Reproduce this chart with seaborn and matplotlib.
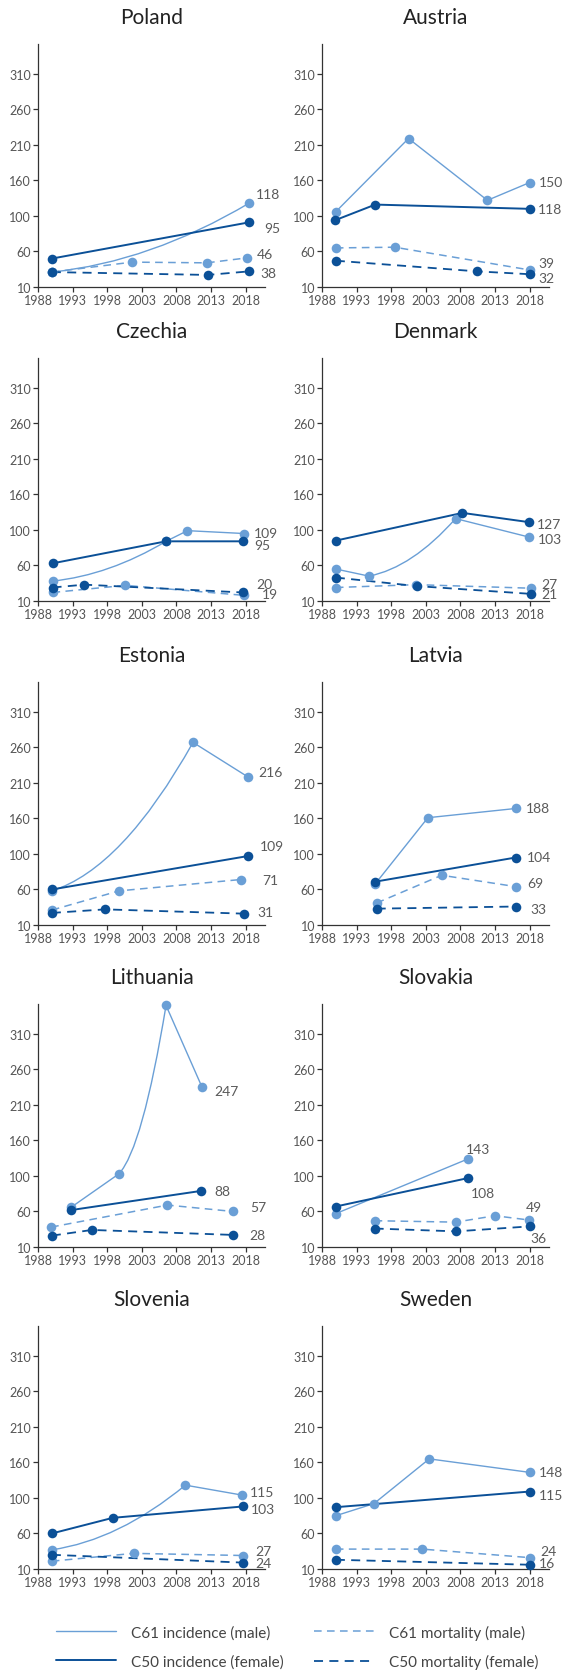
import numpy as np
import pandas as pd
import seaborn as sns
import matplotlib
matplotlib.use('Agg')
import matplotlib.pyplot as plt
from matplotlib.path import Path
from matplotlib.patches import PathPatch
from matplotlib.lines import Line2D

countries = ["Poland", "Austria", "Czechia", "Denmark", "Estonia",
             "Latvia", "Lithuania", "Slovakia", "Slovenia", "Sweden"]

# C61 incidence (male)
c61_inc_x = {
    "Poland": [1990.0, 2018.5],
    "Austria": [1990.0, 2000.5, 2011.9, 2018.0],
    "Czechia": [1990.1, 2006.5, 2009.6, 2017.7],
    "Denmark": [1990.0, 1994.8, 2007.3, 2017.9],
    "Estonia": [1990.0, 2010.4, 2018.4],
    "Latvia": [1995.7, 2003.3, 2016.0],
    "Lithuania": [1992.8, 1999.7, 2006.5, 2011.7],
    "Slovakia": [1990.0, 2009.1],
    "Slovenia": [1990.0, 2009.3, 2017.5],
    "Sweden": [1990.0, 1995.5, 2003.5, 2018.0],
}
c61_inc_y = {
    "Poland": [31, 128],
    "Austria": [116, 219, 132, 157],
    "Czechia": [38, 94, 109, 105],
    "Denmark": [55, 45, 126, 100],
    "Estonia": [58, 267, 218],
    "Latvia": [68, 161, 174],
    "Lithuania": [66, 113, 350, 235],
    "Slovakia": [57, 134],
    "Slovenia": [37, 128, 114],
    "Sweden": [85, 102, 165, 146],
}
# C50 incidence (female)
c50_inc_x = {
    "Poland": [1990.0, 2018.5],
    "Austria": [1989.9, 1995.7, 2018.0],
    "Czechia": [1990.1, 2006.5, 2017.6],
    "Denmark": [1990.0, 2008.3, 2017.9],
    "Estonia": [1990.0, 2018.3],
    "Latvia": [1995.7, 2016.0],
    "Lithuania": [1992.8, 2011.6],
    "Slovakia": [1990.0, 2009.1],
    "Slovenia": [1990.0, 1998.8, 2017.6],
    "Sweden": [1990.0, 2018.0],
}
c50_inc_y = {
    "Poland": [50, 101],
    "Austria": [104, 126, 120],
    "Czechia": [63, 94, 94],
    "Denmark": [95, 134, 121],
    "Estonia": [60, 107],
    "Latvia": [71, 105],
    "Lithuania": [62, 89],
    "Slovakia": [67, 107],
    "Slovenia": [60, 82, 98],
    "Sweden": [97, 119],
}
# C61 mortality (male)
c61_mort_x = {
    "Poland": [1990.0, 2001.6, 2012.4, 2018.2],
    "Austria": [1990.0, 1998.5, 2018.0],
    "Czechia": [1990.1, 2000.6, 2017.7],
    "Denmark": [1990.0, 2001.6, 2018.2],
    "Estonia": [1990.0, 1999.7, 2017.3],
    "Latvia": [1995.9, 2005.3, 2016.0],
    "Lithuania": [1989.9, 2006.7, 2016.2],
    "Slovakia": [1995.6, 2007.3, 2013.0, 2017.9],
    "Slovenia": [1990.0, 2001.8, 2017.6],
    "Sweden": [1990.0, 2002.5, 2018.0],
}
c61_mort_y = {
    "Poland": [31, 45, 44, 51],
    "Austria": [65, 66, 34],
    "Czechia": [22, 32, 18],
    "Denmark": [29, 33, 28],
    "Estonia": [31, 58, 74],
    "Latvia": [41, 80, 64],
    "Lithuania": [38, 69, 60],
    "Slovakia": [47, 45, 54, 48],
    "Slovenia": [21, 32, 29],
    "Sweden": [38, 38, 26],
}
# C50 mortality (female)
c50_mort_x = {
    "Poland": [1990.0, 2012.5, 2018.5],
    "Austria": [1990.0, 2010.4, 2018.0],
    "Czechia": [1990.1, 1994.7, 2017.6],
    "Denmark": [1990.0, 2001.7, 2018.2],
    "Estonia": [1990.0, 1997.7, 2017.7],
    "Latvia": [1995.9, 2016.0],
    "Lithuania": [1990.0, 1995.8, 2016.2],
    "Slovakia": [1995.6, 2007.4, 2018.0],
    "Slovenia": [1990.0, 2017.6],
    "Sweden": [1990.0, 2018.0],
}
c50_mort_y = {
    "Poland": [31, 27, 32],
    "Austria": [47, 32, 28],
    "Czechia": [29, 33, 22],
    "Denmark": [43, 31, 20],
    "Estonia": [27, 32, 26],
    "Latvia": [33, 36],
    "Lithuania": [26, 34, 27],
    "Slovakia": [36, 32, 39],
    "Slovenia": [30, 19],
    "Sweden": [23, 16],
}

# end-of-line value labels
c61_inc_lab = {"Poland": "118", "Austria": "150", "Czechia": "109", "Denmark": "103", "Estonia": "216",
               "Latvia": "188", "Lithuania": "247", "Slovakia": "143", "Slovenia": "115", "Sweden": "148"}
c50_inc_lab = {"Poland": "95", "Austria": "118", "Czechia": "95", "Denmark": "127", "Estonia": "109",
               "Latvia": "104", "Lithuania": "88", "Slovakia": "108", "Slovenia": "103", "Sweden": "115"}
c61_mort_lab = {"Poland": "46", "Austria": "39", "Czechia": "19", "Denmark": "27", "Estonia": "71",
                "Latvia": "69", "Lithuania": "57", "Slovakia": "49", "Slovenia": "27", "Sweden": "24"}
c50_mort_lab = {"Poland": "38", "Austria": "32", "Czechia": "20", "Denmark": "21", "Estonia": "31",
                "Latvia": "33", "Lithuania": "28", "Slovakia": "36", "Slovenia": "24", "Sweden": "16"}

year_ticks = [1988, 1993, 1998, 2003, 2008, 2013, 2018]
y_ticks = [10, 60, 110, 160, 210, 260, 310]
y_tick_labels = ["10", "60", "100", "160", "210", "260", "310"]

legend_names = ["C61 incidence (male)", "C50 incidence (female)",
                "C61 mortality (male)", "C50 mortality (female)"]

# --- styling (not data) ---
LIGHT = "#6a9fd6"
DARK = "#0b5097"
# label offsets in pixels (dx, dy) for c61 inc, c50 inc, c61 mort, c50 mort
lab_off = {
    "Poland": [(7, 9), (15, -6), (10, 4), (11, -2)],
    "Austria": [(9, 1), (8, 0), (9, 7), (9, -4)],
    "Czechia": [(10, 1), (11, -4), (18, 1), (13, 8)],
    "Denmark": [(9, -2), (8, -2), (10, 4), (10, 0)],
    "Estonia": [(10, 5), (12, 10), (21, 0), (14, 2)],
    "Latvia": [(10, 0), (11, 0), (11, 4), (15, -2)],
    "Lithuania": [(12, -4), (13, 0), (17, 4), (16, 0)],
    "Slovakia": [(-2, 10), (3, -15), (-3, 13), (1, -12)],
    "Slovenia": [(8, 3), (8, -3), (12, 4), (12, 0)],
    "Sweden": [(9, 0), (9, -3), (11, 7), (9, 2)],
}
# segments of the C61 incidence line drawn as a curve
curve_seg = {"Poland": 0, "Czechia": 0, "Denmark": 1, "Estonia": 0, "Lithuania": 1, "Slovenia": 0}

sns.set_style("ticks")
narrow = ['Liberation Sans Narrow', 'Lato', 'DejaVu Sans']
plt.rcParams['font.family'] = narrow

W, H = 572, 1674
fig = plt.figure(figsize=(W / 100, H / 100), dpi=100)

col_left = [38, 322]
ax_w = 227
row_top = [45, 359, 683, 1005, 1327]
ax_h = 243


def series_path(xs, ys, curved=None):
    verts = [(xs[0], ys[0])]
    codes = [Path.MOVETO]
    for i in range(1, len(xs)):
        if curved is not None and i - 1 == curved:
            cx = xs[i - 1] + 0.5 * (xs[i] - xs[i - 1])
            cy = ys[i - 1] + 0.15 * (ys[i] - ys[i - 1])
            verts += [(cx, cy), (xs[i], ys[i])]
            codes += [Path.CURVE3, Path.CURVE3]
        else:
            verts.append((xs[i], ys[i]))
            codes.append(Path.LINETO)
    return Path(verts, codes)


series = [
    (c61_inc_x, c61_inc_y, c61_inc_lab, LIGHT, 1.0, '-'),
    (c50_inc_x, c50_inc_y, c50_inc_lab, DARK, 1.4, '-'),
    (c61_mort_x, c61_mort_y, c61_mort_lab, LIGHT, 1.1, (0, (5, 3.5))),
    (c50_mort_x, c50_mort_y, c50_mort_lab, DARK, 1.3, (0, (5, 3.5))),
]
draw_order = [0, 2, 1, 3]

for k, c in enumerate(countries):
    r, col = divmod(k, 2)
    left = col_left[col] / W
    bottom = 1 - (row_top[r] + ax_h) / H
    ax = fig.add_axes([left, bottom, ax_w / W, ax_h / H])

    for si in draw_order:
        xd, yd, labd, color, lw, ls = series[si]
        xs, ys = xd[c], yd[c]
        curved = curve_seg.get(c) if si == 0 else None
        patch = PathPatch(series_path(xs, ys, curved), fill=False, edgecolor=color,
                          linewidth=lw, linestyle=ls, zorder=2, clip_on=False,
                          capstyle='butt')
        ax.add_patch(patch)
        df = pd.DataFrame({"year": xs, "value": ys})
        sns.scatterplot(data=df, x="year", y="value", ax=ax, color=color, s=48,
                        linewidth=0, zorder=3, clip_on=False, legend=False)
        dx, dy = lab_off[c][si]
        ax.annotate(labd[c], (xs[-1], ys[-1]), xytext=(dx, dy), textcoords='offset pixels',
                    ha='left', va='center', fontsize=10, color='#5a5a5a',
                    family=narrow, annotation_clip=False)

    ax.set_xlim(1988, 2020.8)
    ax.set_ylim(10, 352)
    ax.set_xticks(year_ticks)
    ax.set_yticks(y_ticks)
    ax.set_yticklabels(y_tick_labels)
    ax.set_xlabel("")
    ax.set_ylabel("")
    ax.tick_params(axis='both', length=3.5, width=0.9, color='#333333',
                   labelsize=9, labelcolor='#555555', pad=1.5)
    for lab in ax.get_xticklabels() + ax.get_yticklabels():
        lab.set_family(narrow)
    sns.despine(ax=ax)
    for sp in ['left', 'bottom']:
        ax.spines[sp].set_color('#333333')
        ax.spines[sp].set_linewidth(0.9)
    ax.set_title(c, fontsize=15, color='#222222', pad=15, family=['Lato', 'DejaVu Sans'])

handles = [
    Line2D([], [], color=LIGHT, lw=1.0, ls='-'),
    Line2D([], [], color=DARK, lw=1.4, ls='-'),
    Line2D([], [], color=LIGHT, lw=1.1, ls=(0, (5, 3.5))),
    Line2D([], [], color=DARK, lw=1.3, ls=(0, (5, 3.5))),
]
fig.legend(handles, legend_names, ncol=2, loc='center', bbox_to_anchor=(0.52, 1 - 1648 / H),
           frameon=False, handlelength=3.9, columnspacing=2.0, labelspacing=0.95,
           handletextpad=1.0, borderpad=0.2, prop={'family': ['Lato', 'DejaVu Sans'], 'size': 11},
           labelcolor='#444444')

fig.savefig("out.png", dpi=100)
